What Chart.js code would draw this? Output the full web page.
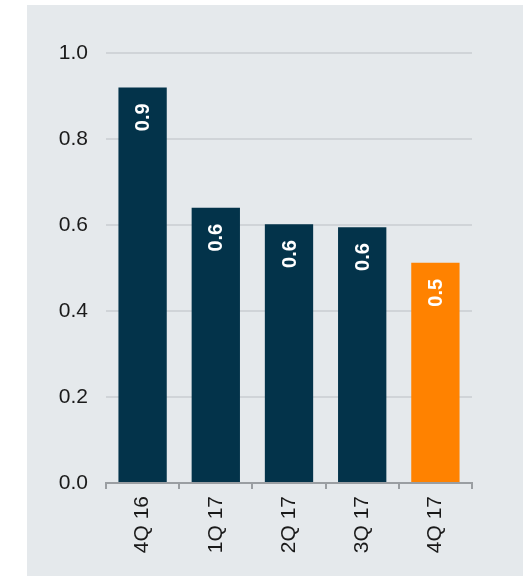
<!DOCTYPE html>
<html>
<head>
<meta charset="utf-8">
<script src="https://cdn.jsdelivr.net/npm/chart.js@4"></script>
<style>
html,body{margin:0;padding:0;background:#fff;}
#wrap{position:absolute;left:0;top:0;width:529px;height:576px;}
</style>
</head>
<body>
<div id="wrap"><canvas id="c" width="529" height="576"></canvas></div>
<script>
const categories = ['4Q 16', '1Q 17', '2Q 17', '3Q 17', '4Q 17'];
const values = [0.92, 0.64, 0.602, 0.595, 0.512];
const labelsText = ['0.9', '0.6', '0.6', '0.6', '0.5'];
const barColors = ['#03334a', '#03334a', '#03334a', '#03334a', '#ff8200'];
const yTicks = [0, 0.2, 0.4, 0.6, 0.8, 1.0];

const panelPlugin = {
  id: 'panel',
  beforeDraw(chart) {
    const ctx = chart.ctx;
    ctx.save();
    ctx.fillStyle = '#e5e9ec';
    ctx.fillRect(27, 5, 496, 571);
    ctx.restore();
  }
};

const valueLabelPlugin = {
  id: 'valueLabels',
  afterDatasetsDraw(chart) {
    const ctx = chart.ctx;
    const meta = chart.getDatasetMeta(0);
    ctx.save();
    ctx.fillStyle = '#ffffff';
    ctx.font = 'bold 20px "Liberation Sans", Arial, sans-serif';
    meta.data.forEach((bar, i) => {
      ctx.save();
      ctx.translate(bar.x, bar.y + 16);
      ctx.rotate(-Math.PI / 2);
      ctx.textAlign = 'right';
      ctx.textBaseline = 'middle';
      ctx.fillText(labelsText[i], 0, 1);
      ctx.restore();
    });
    ctx.restore();
  }
};

new Chart(document.getElementById('c'), {
  type: 'bar',
  data: {
    labels: categories,
    datasets: [{
      data: values,
      backgroundColor: barColors,
      borderWidth: 0,
      barPercentage: 0.66,
      categoryPercentage: 1.0
    }]
  },
  options: {
    responsive: false,
    animation: false,
    layout: { padding: { top: 53, right: 57, left: 0, bottom: 0 } },
    plugins: { legend: { display: false }, tooltip: { enabled: false } },
    scales: {
      x: {
        offset: true,
        grid: { offset: true, drawOnChartArea: false, drawTicks: true, tickLength: 6, color: '#9a9ea2', lineWidth: 2 },
        border: { display: true, color: '#9a9ea2', width: 2 },
        ticks: {
          color: '#1a1a1a',
          font: { family: '"Liberation Sans", Arial, sans-serif', size: 21 },
          maxRotation: 90, minRotation: 90, padding: 7
        },
        afterFit(scale) { scale.height = 93; }
      },
      y: {
        min: 0, max: 1.0,
        afterBuildTicks(scale) { scale.ticks = yTicks.map(v => ({ value: v })); },
        grid: { color: '#d0d4d8', lineWidth: 2, drawTicks: false },
        border: { display: false },
        ticks: {
          color: '#1a1a1a',
          font: { family: '"Liberation Sans", Arial, sans-serif', size: 21 },
          padding: 18,
          callback: v => Number(v).toFixed(1)
        },
        afterFit(scale) { scale.width = 106; }
      }
    }
  },
  plugins: [panelPlugin, valueLabelPlugin]
});
</script>
</body>
</html>
